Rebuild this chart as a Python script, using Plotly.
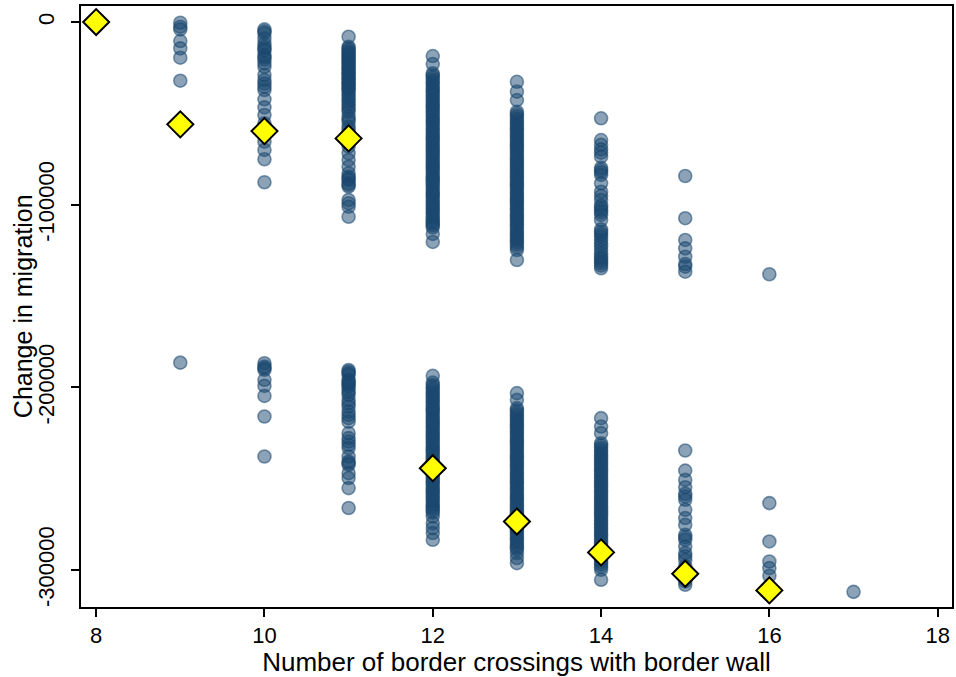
import plotly.graph_objects as go

# Simulated change in migration by number of border crossings with a wall
mig_09 = [-380, -2570, -4000, -10400, -14400, -19500, -32100, -186500]
mig_10 = [-4000, -5100, -6200, -8900, -11700, -13500, -14600, -15700, -18100, -19300,
          -20500, -22600, -24500, -29000, -31700, -33600, -35400, -37200, -42300, -46700,
          -50900, -55400, -60900, -65500, -70000, -75100, -87700,
          -186800, -188600, -189500, -190400, -195900, -199200, -204700, -216000, -237900]
mig_11 = [-8000, -13500, -14300, -15200, -16300, -17200, -18100, -19000, -19900, -20800,
          -21700, -22500, -23400, -24500, -25300, -26000, -27200, -28000, -28700, -29900,
          -30700, -31500, -32700, -33400, -34100, -35400, -36100, -36800, -38100, -39500,
          -40900, -42200, -43600, -45000, -46400, -47700, -49100, -51800, -53200, -54600,
          -57300, -58900, -60900, -62800, -64600, -66400, -68200, -71900, -75500, -79200,
          -82800, -84700, -85600, -86500, -88300, -89200, -90100, -97400, -99200, -101100,
          -106600,
          -190500, -191400, -192300, -193200, -195900, -196800, -197700, -198700, -199600,
          -201400, -202700, -204100, -206900, -208700, -210500, -213300, -215100, -216900,
          -218800, -225100, -227800, -229700, -231500, -233300, -237900, -240600, -241500,
          -242400, -247000, -249700, -255200, -266100]
mig_12 = [-18600, -23000, -28000, -29200, -30300, -31700, -32900, -34200, -35600, -36700,
          -37800, -39100, -40400, -41800, -43100, -44300, -45500, -46700, -47900, -49200,
          -50600, -51900, -53200, -54300, -55400, -56800, -58100, -59400, -60700, -61800,
          -63000, -64200, -65400, -66700, -68100, -69300, -70600, -71700, -72900, -74300,
          -75700, -77000, -78200, -79300, -80400, -81700, -83100, -84400, -85600, -86700,
          -87800, -89100, -90500, -91900, -93200, -94200, -95300, -96600, -98000, -99300,
          -100600, -101700, -102900, -104100, -105400, -106800, -108100, -109200, -110300,
          -111400, -112500, -116000, -120400,
          -193700, -197400, -198700, -199900, -201200, -202600, -203900, -205100, -206300,
          -207500, -208800, -210200, -211500, -212600, -213800, -215100, -216400, -217700,
          -219000, -220100, -221300, -222600, -223900, -225200, -226500, -227600, -228800,
          -230100, -231400, -232700, -234000, -235100, -236300, -237600, -238900, -240200,
          -241500, -242600, -243800, -245000, -246300, -247700, -249000, -250200, -251400,
          -252600, -253900, -255200, -256500, -257600, -258800, -260100, -261400, -262700,
          -264000, -265100, -266300, -267400, -268600, -270700, -274400, -277100, -279800,
          -283500]
mig_13 = [-32700, -38100, -42700, -49100, -50300, -51600, -53000, -54300, -55600, -56900,
          -58100, -59300, -60500, -61800, -63100, -64400, -65700, -66900, -68100, -69300,
          -70500, -71800, -73200, -74500, -75800, -77000, -78200, -79400, -80600, -81900,
          -83200, -84500, -85800, -87000, -88200, -89400, -90600, -91900, -93200, -94500,
          -95800, -97000, -98200, -99400, -100600, -101900, -103200, -104500, -105800,
          -107000, -108200, -109400, -110600, -111900, -113200, -114500, -115800, -117000,
          -118200, -119400, -120600, -121900, -123300, -124800, -130300,
          -203200, -206900, -211400, -212600, -213900, -215200, -216500, -217800, -219000,
          -220200, -221400, -222600, -223900, -225200, -226500, -227800, -229000, -230200,
          -231400, -232600, -233900, -235200, -236500, -237800, -239000, -240200, -241400,
          -242600, -243900, -245200, -246500, -247800, -249000, -250200, -251400, -252600,
          -253900, -255200, -256500, -257800, -259000, -260200, -261400, -262600, -263900,
          -265200, -266500, -267800, -269000, -270200, -271400, -272600, -273900, -275200,
          -276500, -277800, -279000, -280200, -281400, -282600, -283900, -285200, -286500,
          -287700, -288800, -290800, -293500, -296300]
mig_14 = [-52700, -64600, -67200, -69700, -71500, -73700, -79800, -81000, -82300, -83700,
          -88300, -92900, -95200, -97400, -100400, -101600, -102900, -104200, -105600,
          -108400, -113500, -114800, -116100, -117500, -119300, -121100, -122900, -124800,
          -126600, -128500, -129600, -130800, -132100, -133400, -134800,
          -216900, -221500, -225100, -230600, -231800, -233100, -234400, -235800, -237100,
          -238400, -239600, -240900, -242200, -243500, -244700, -246000, -247300, -248600,
          -249800, -251100, -252400, -253700, -254900, -256200, -257500, -258800, -260000,
          -261300, -262600, -263900, -265100, -266400, -267700, -269000, -270200, -271500,
          -272800, -274100, -275300, -276600, -277900, -279200, -280400, -281700, -283000,
          -284300, -285500, -286800, -288100, -289400, -290600, -291900, -293200, -294500,
          -295700, -297000, -298400, -299900, -305400]
mig_15 = [-84300, -107400, -119300, -123900, -128500, -132500, -133900, -136700,
          -234600, -245600, -250700, -254700, -258300, -259800, -261600, -267100, -271600,
          -275300, -280800, -282200, -283500, -287200, -290800, -292600, -294500, -298100,
          -306300, -308100]
mig_16 = [-138100, -263400, -284400, -295400, -299000, -303200]
mig_17 = [-312000]

crossings = [9, 10, 11, 12, 13, 14, 15, 16, 17]
by_crossing = [mig_09, mig_10, mig_11, mig_12, mig_13, mig_14, mig_15, mig_16, mig_17]

# Average change for each number of walled crossings
mean_x = [8, 9, 10, 11, 12, 13, 14, 15, 16]
mean_y = [0, -56000, -59700, -63700, -244300, -273500, -290400, -302100, -311200]

x_pts, y_pts = [], []
for c, vals in zip(crossings, by_crossing):
    x_pts.extend([c] * len(vals))
    y_pts.extend(vals)

fig = go.Figure()
fig.add_trace(go.Scatter(
    x=x_pts, y=y_pts, mode="markers",
    marker=dict(symbol="circle", size=13, color="rgba(26,71,111,0.5)",
                line=dict(color="rgba(26,71,111,0.55)", width=1.6)),
    showlegend=False, hoverinfo="x+y",
))
fig.add_trace(go.Scatter(
    x=mean_x, y=mean_y, mode="markers",
    marker=dict(symbol="diamond", size=20, color="#ffff00",
                line=dict(color="black", width=2)),
    showlegend=False, hoverinfo="x+y",
))

font = "Arial, Liberation Sans, sans-serif"
fig.update_layout(
    width=956, height=677,
    margin=dict(l=81, r=2, t=6, b=70),
    paper_bgcolor="white", plot_bgcolor="white",
    font=dict(family=font, size=22, color="black"),
    annotations=[dict(
        text="Change in migration", textangle=-90,
        xref="paper", yref="paper", x=-0.067, y=0.5,
        xanchor="center", yanchor="middle", showarrow=False,
        font=dict(size=25, family=font, color="black"),
    )],
)
fig.update_xaxes(
    range=[7.82, 18.17], tickvals=[8, 10, 12, 14, 16, 18],
    showgrid=False, zeroline=False,
    showline=True, linecolor="black", linewidth=2, mirror=True,
    ticks="outside", ticklen=8, tickwidth=1.5, tickcolor="black",
    tickfont=dict(size=22),
    title=dict(text="Number of border crossings with border wall", font=dict(size=26), standoff=2),
)
fig.update_yaxes(
    range=[-320300, 8800], tickvals=[0, -100000, -200000, -300000],
    ticktext=["0", "-100000", "-200000", "-300000"],
    tickangle=-90, ticklabelstandoff=8,
    showgrid=False, zeroline=False,
    showline=True, linecolor="black", linewidth=2, mirror=True,
    ticks="outside", ticklen=8, tickwidth=1.5, tickcolor="black",
    tickfont=dict(size=22),
)

fig.write_html("out.html")
